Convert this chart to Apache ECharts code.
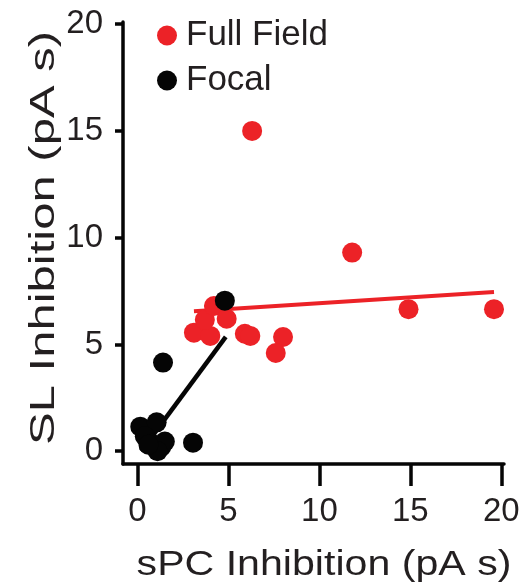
<!DOCTYPE html>
<html>
<head>
<meta charset="utf-8">
<title>SL vs sPC inhibition</title>
<script src="https://cdn.jsdelivr.net/npm/echarts@6/dist/echarts.min.js"></script>
<style>
  html, body { margin: 0; padding: 0; background: #ffffff; }
  #chart { width: 527px; height: 587px; }
</style>
</head>
<body>
<div id="chart"></div>
<script>
// Full-field stimulation: sPC inhibition (x) vs SL inhibition (y), pA s
var fullFieldX = [3.1, 4.0, 3.7, 4.2, 4.9, 5.9, 6.2, 8.0, 7.6, 6.3, 11.8, 14.9, 19.6];
var fullFieldY = [5.55, 5.4, 6.15, 6.8, 6.2, 5.5, 5.4, 5.35, 4.6, 15.0, 9.3, 6.65, 6.65];

// Focal stimulation
var focalX = [4.8, 1.4, 3.05, 0.15, 1.05, 0.4, 0.8, 1.3, 1.5, 1.1, 0.6];
var focalY = [7.05, 4.15, 0.4, 1.15, 1.35, 0.7, 0.35, 0.2, 0.45, 0.0, 0.3];

// Linear fit end points for each group
var fullFitX = [3.1, 19.6];
var fullFitY = [6.55, 7.45];
var focalFitX = [0.2, 4.85];
var focalFitY = [0.0, 5.35];

var tickValues = [0, 5, 10, 15, 20];
var xTitle = 'sPC Inhibition (pA s)';
var yTitle = 'SL Inhibition (pA s)';

function pairs(xs, ys) {
  return xs.map(function (x, i) { return [x, ys[i]]; });
}

var RED = '#ec2227';
var BLACK = '#050505';
var INK = '#231f20';
var FONT = 'Liberation Sans';

var chart = echarts.init(document.getElementById('chart'), null, { renderer: 'canvas' });

chart.setOption({
  animation: false,
  backgroundColor: '#ffffff',
  grid: { left: 123, right: 23, top: 22, bottom: 123 },
  legend: {
    data: ['Full Field', 'Focal'],
    orient: 'vertical',
    left: 152,
    top: 13,
    itemWidth: 20,
    itemHeight: 20,
    itemGap: 10,
    icon: 'circle',
    textStyle: { fontFamily: FONT, fontSize: 35, color: INK, padding: [0, 0, 0, 4] }
  },
  // widely tracked axis titles
  graphic: [
    {
      type: 'text',
      x: 324,
      y: 565,
      scaleX: 1.175,
      style: {
        text: xTitle,
        font: '35px "Liberation Sans"',
        fill: INK,
        textAlign: 'center',
        textVerticalAlign: 'middle'
      }
    },
    {
      type: 'text',
      x: 44,
      y: 238,
      rotation: Math.PI / 2,
      scaleX: 1.4,
      style: {
        text: yTitle,
        font: '35px "Liberation Sans"',
        fill: INK,
        textAlign: 'center',
        textVerticalAlign: 'middle'
      }
    }
  ],
  xAxis: {
    type: 'value',
    min: -0.8,
    max: 20.15,
    axisLine: { onZero: false, lineStyle: { color: BLACK, width: 3.5 } },
    axisTick: { customValues: tickValues, length: 22, lineStyle: { color: BLACK, width: 3.5 } },
    axisLabel: { customValues: tickValues, margin: 31, fontFamily: FONT, fontSize: 33, color: INK },
    splitLine: { show: false }
  },
  yAxis: {
    type: 'value',
    min: -0.6,
    max: 20.1,
    axisLine: { onZero: false, lineStyle: { color: BLACK, width: 3.5 } },
    axisTick: { customValues: tickValues, length: 8, lineStyle: { color: BLACK, width: 3.5 } },
    axisLabel: { customValues: tickValues, margin: 20, fontFamily: FONT, fontSize: 33, color: INK },
    splitLine: { show: false }
  },
  series: [
    {
      name: 'Full Field fit',
      type: 'line',
      data: pairs(fullFitX, fullFitY),
      symbol: 'none',
      lineStyle: { color: RED, width: 4 },
      z: 1
    },
    {
      name: 'Full Field',
      type: 'scatter',
      data: pairs(fullFieldX, fullFieldY),
      symbolSize: 20,
      itemStyle: { color: RED, opacity: 1 },
      z: 2
    },
    {
      name: 'Focal fit',
      type: 'line',
      data: pairs(focalFitX, focalFitY),
      symbol: 'none',
      lineStyle: { color: BLACK, width: 4.5 },
      z: 3
    },
    {
      name: 'Focal',
      type: 'scatter',
      data: pairs(focalX, focalY),
      symbolSize: 20,
      itemStyle: { color: BLACK, opacity: 1 },
      z: 4
    }
  ]
});
</script>
</body>
</html>
